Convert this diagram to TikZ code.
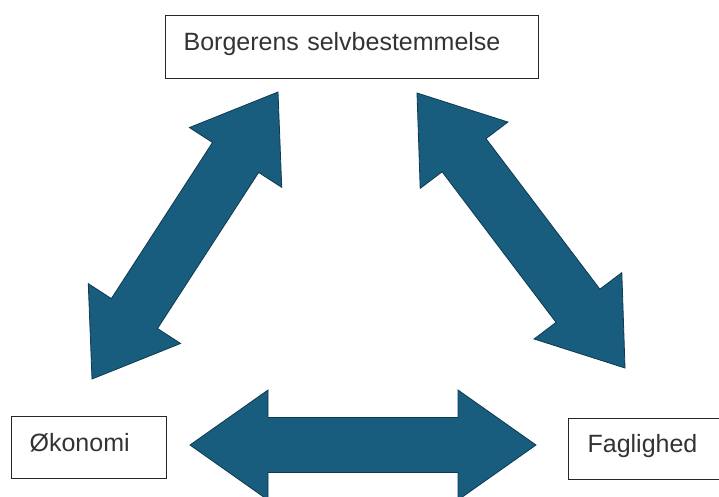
\documentclass[tikz,border=0pt]{standalone}
\usepackage{fontspec}
\setmainfont{Liberation Sans}
\usepackage{tikz}
\usetikzlibrary{calc}
\definecolor{arrowblue}{RGB}{24,93,125}
\definecolor{arrowedge}{RGB}{14,58,80}

\begin{document}
\begin{tikzpicture}[x=1pt,y=-1pt,
    box/.style={draw=black!85, line width=1.2pt, inner xsep=18pt, inner ysep=0pt, align=left,
        text=black!80, font=\fontsize{25}{30}\selectfont, anchor=north west},
    blockarrow/.style={fill=arrowblue, draw=arrowedge, line width=0.8pt, line join=miter}]
    \useasboundingbox (0,0) rectangle (719,496);
    \node[box, text width=337pt, text height=35pt, text depth=28pt] (borger) at (165,15) {Borgerens selvbestemmelse};
    \node[box, text width=119pt, text height=35pt, text depth=27pt] (oekonomi) at (11,416) {Økonomi};
    \node[box, inner xsep=19pt, text width=150pt, text height=34pt, text depth=27pt] (faglighed) at (568,418) {Faglighed};
    \coordinate (leftlow) at (92,379);
    \coordinate (lefttop) at (278,92);
    \coordinate (righttop) at (417,93);
    \coordinate (rightlow) at (625,368);
    \coordinate (midleft) at (190,445);
    \coordinate (midright) at (536,445);
    \foreach \a/\b in {leftlow/lefttop, righttop/rightlow, midleft/midright}
        \filldraw[blockarrow] (\a)
            -- ($(\a)!78pt!(\b)!55pt!90:(\b)$) -- ($(\a)!78pt!(\b)!27.5pt!90:(\b)$)
            -- ($(\b)!78pt!(\a)!27.5pt!-90:(\a)$) -- ($(\b)!78pt!(\a)!55pt!-90:(\a)$)
            -- (\b)
            -- ($(\b)!78pt!(\a)!55pt!90:(\a)$) -- ($(\b)!78pt!(\a)!27.5pt!90:(\a)$)
            -- ($(\a)!78pt!(\b)!27.5pt!-90:(\b)$) -- ($(\a)!78pt!(\b)!55pt!-90:(\b)$)
            -- cycle;
\end{tikzpicture}
\end{document}
